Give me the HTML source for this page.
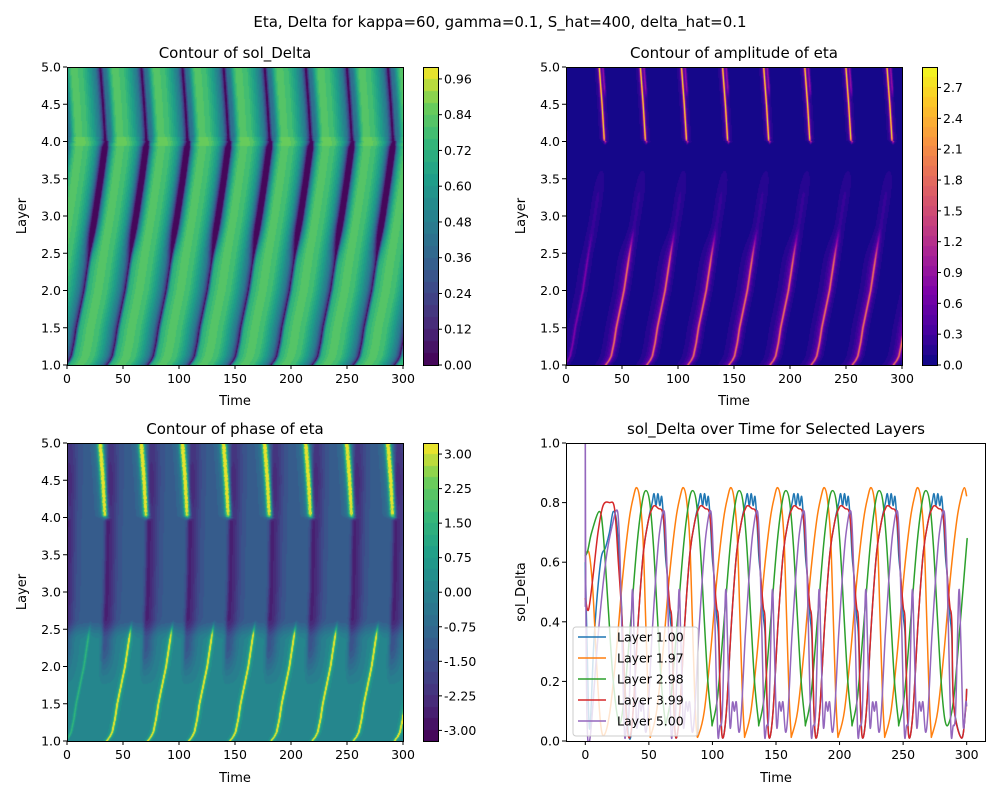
<!DOCTYPE html>
<html><head><meta charset="utf-8"><style>
body{margin:0;width:1000px;height:800px;background:#fff;position:relative;overflow:hidden;font-family:"DejaVu Sans","Liberation Sans",sans-serif}
canvas{position:absolute}
svg{position:absolute;left:0;top:0}
svg text{font-family:"DejaVu Sans","Liberation Sans",sans-serif;fill:#000}
</style></head><body>
<canvas id="c1" style="left:67px;top:67px" width="336" height="298"></canvas>
<canvas id="c2" style="left:566px;top:67px" width="336" height="298"></canvas>
<canvas id="c3" style="left:67px;top:443px" width="336" height="298"></canvas>
<canvas id="b1" style="left:423px;top:67px" width="15" height="298"></canvas>
<canvas id="b2" style="left:922px;top:67px" width="15" height="298"></canvas>
<canvas id="b3" style="left:423px;top:443px" width="15" height="298"></canvas>
<svg id="s" width="1000" height="800">
<text x="500" y="27" text-anchor="middle" font-size="15">Eta, Delta for kappa=60, gamma=0.1, S_hat=400, delta_hat=0.1</text>
<text x="235" y="58" text-anchor="middle" font-size="15">Contour of sol_Delta</text>
<text x="734" y="58" text-anchor="middle" font-size="15">Contour of amplitude of eta</text>
<text x="235" y="434" text-anchor="middle" font-size="15">Contour of phase of eta</text>
<text x="776" y="434" text-anchor="middle" font-size="15">sol_Delta over Time for Selected Layers</text>
<text x="235" y="405" text-anchor="middle" font-size="13">Time</text>
<text x="734" y="405" text-anchor="middle" font-size="13">Time</text>
<text x="235" y="782" text-anchor="middle" font-size="13">Time</text>
<text x="776" y="782" text-anchor="middle" font-size="13">Time</text>
<text transform="translate(26,216) rotate(-90)" text-anchor="middle" font-size="13">Layer</text>
<text transform="translate(525,216) rotate(-90)" text-anchor="middle" font-size="13">Layer</text>
<text transform="translate(26,592) rotate(-90)" text-anchor="middle" font-size="13">Layer</text>
<text transform="translate(525,592) rotate(-90)" text-anchor="middle" font-size="13">sol_Delta</text>
<g id="g"></g>
</svg>
<script>
// ---------- heatmap model data ----------
const period = 36.7;
const firstCycle = 35.4;
const shiftLayers = [1, 1.06, 1.12, 1.3, 1.5, 2, 2.5, 3, 3.5, 4, 4.01, 4.5, 5];
const shiftTimes  = [0, 3, 5, 7.5, 9.5, 16.4, 21.4, 27, 32, 36.5, 35.5, 33.5, 31];
const solPhase = [0, 0.03, 0.08, 0.3, 0.55, 0.75, 0.88, 0.96, 1];
const solVals  = [0.02, 0.35, 0.7, 0.83, 0.78, 0.6, 0.45, 0.25, 0.02];
const solTicks = ["0.00","0.12","0.24","0.36","0.48","0.60","0.72","0.84","0.96"];
const ampTicks = ["0.0","0.3","0.6","0.9","1.2","1.5","1.8","2.1","2.4","2.7"];
const phaseTicks = ["-3.00","-2.25","-1.50","-0.75","0.00","0.75","1.50","2.25","3.00"];
const layerTicks = ["1.0","1.5","2.0","2.5","3.0","3.5","4.0","4.5","5.0"];
const timeTicks = ["0","50","100","150","200","250","300"];

// ---------- line chart data ----------
const lineLabels = ["Layer 1.00","Layer 1.97","Layer 2.98","Layer 3.99","Layer 5.00"];
const lineColors = ["#1f77b4","#ff7f0e","#2ca02c","#d62728","#9467bd"];
const blueStartT = [0,1.5,3.5,7,12,16,19,22,25,28,31];
const blueStartV = [0.6,0.3,0.04,0.35,0.6,0.65,0.7,0.77,0.72,0.5,0.2];
const blueCycles = [34.6,71.3,108,144.7,181.4,218.1,254.8,296];
const blueShapeT = [0,3,7,11,15,18,19.5,21,22.5,24,25.5,27,28.5,30,32,33.5,35];
const blueShapeV = [0.01,0.1,0.4,0.63,0.74,0.8,0.83,0.79,0.83,0.79,0.82,0.74,0.62,0.55,0.42,0.35,0.12];
const orangeStartT = [0,3,6,9,12];
const orangeStartV = [0.62,0.63,0.5,0.25,0.06];
const orangeCycles = [40.4,77.1,114.6,151.3,188,224.8,261.5,298.2];
const orangeShapeT = [-25.5,-21,-16,-11,-6,-2.5,0,2.5,5,7,9,10.5];
const orangeShapeV = [0.02,0.1,0.3,0.55,0.74,0.82,0.85,0.81,0.68,0.42,0.15,0.03];
const greenStartT = [0,2,5,11,14,18,22];
const greenStartV = [0.62,0.64,0.7,0.77,0.7,0.45,0.2];
const greenCycles = [47.7,84.4,121.1,157.8,194.5,231.2,267.9,307];
const greenShapeT = [-21,-17,-12,-7,-3,0,3,6,9,12,15];
const greenShapeV = [0.06,0.15,0.4,0.66,0.8,0.84,0.8,0.65,0.42,0.2,0.07];
const redStartT = [0,2.5,6,10,14,19,23,26,29,32];
const redStartV = [0.48,0.44,0.55,0.7,0.79,0.8,0.78,0.6,0.4,0.1];
const redCycles = [34.6,71.3,108,144.7,181.4,218.1,254.8,296];
const redShapeT = [0,3,7,11,15,18,20,23,26,28,30,32,33.5,35];
const redShapeV = [0.01,0.1,0.4,0.63,0.74,0.78,0.79,0.78,0.77,0.7,0.55,0.45,0.4,0.12];
const purpleStartT = [0,0.4,1.5,4,10,16,21];
const purpleStartV = [1.0,0.5,0.05,0.02,0.35,0.6,0.72];
const purpleCycles = [25.4,62.1,98.8,135.5,172.2,208.9,245.6,282.3];
const purpleShapeT = [0,2,4,5.5,7,9,11.5,13,15,17,18.5,20,22,24,27,30,33];
const purpleShapeV = [0.77,0.6,0.25,0.02,0.05,0.1,0.5,0.35,0.05,0.13,0.1,0.13,0.03,0.1,0.35,0.55,0.7];
const yTicksLine = ["0.0","0.2","0.4","0.6","0.8","1.0"];
const xTicksLine = ["0","50","100","150","200","250","300"];

const VIR=["#440154","#482878","#3e4989","#31688e","#26828e","#1f9e89","#35b779","#6ece58","#fde725"];
const PLA=["#0d0887","#4c02a1","#7e03a8","#a92395","#cc4778","#e56b5d","#f89441","#fdc328","#f0f921"];
function hx(h){return [parseInt(h.substr(1,2),16),parseInt(h.substr(3,2),16),parseInt(h.substr(5,2),16)];}
const VIRr=VIR.map(hx), PLAr=PLA.map(hx);
function cmap(st,u,lv){u=Math.max(0,Math.min(0.9999,u));u=(Math.floor(u*lv)+0.5)/lv;const f=u*(st.length-1),i=Math.floor(f),r=f-i;const a=st[i],b=st[Math.min(i+1,st.length-1)];return [a[0]+(b[0]-a[0])*r,a[1]+(b[1]-a[1])*r,a[2]+(b[2]-a[2])*r];}
function interp(xs,ys,x){if(x<=xs[0])return ys[0];for(let i=1;i<xs.length;i++){if(x<=xs[i]){const r=(x-xs[i-1])/(xs[i]-xs[i-1]);return ys[i-1]+(ys[i]-ys[i-1])*r;}}return ys[ys.length-1];}
function sd(t,s){let d=((t-firstCycle-s)%period+period)%period;if(d>period/2)d-=period;return d;}
function g(x,w){return Math.exp(-(x*x)/(w*w));}
function sm(a,b,x){const r=Math.max(0,Math.min(1,(x-a)/(b-a)));return r*r*(3-2*r);}
function early(t,s){return (t-s)<firstCycle-10?0.35:1;}

function solVal(t,L){const s=interp(shiftLayers,shiftTimes,L);let ph=((t-firstCycle-s)%period+period)%period/period;let v=interp(solPhase,solVals,ph);
 const d=sd(t,s);const mid=sm(2.3,2.9,L)*(1-sm(3.9,4.1,L));v-=0.45*mid*g(d,5);
 const top=sm(3.95,4.05,L);if(top>0){v-=top*0.3*g(d-4,4);} if(Math.abs(L-4)<0.06)v+=0.05;
 return Math.max(0.01,v);}
function ampVal(t,L){const s=interp(shiftLayers,shiftTimes,L);const d=sd(t,s);let v=0.06;const e=early(t,s);
 const low=(1-sm(2.3,2.9,L))*e;v+=low*(1.5*g(d,0.9)+0.35*g(d,3.5)+0.15*g(d+3,6));
 const mid=sm(2.4,2.8,L)*(1-sm(3.2,3.8,L));v+=mid*0.15*g(d,4);
 const top=sm(3.95,4.05,L);v+=top*(2.5*g(d,0.8)+0.3*g(d,3));
 const top2=sm(4.55,4.75,L);v+=top2*0.8*g(d-3.2,0.9);
 return v;}
function phaseVal(t,L){const s=interp(shiftLayers,shiftTimes,L);const d=sd(t,s);const e=early(t,s);
 let v=0.05-1.2*sm(2.35,2.65,L);
 const dc=interp([1,2,3,4,5],[-4,-3,0,1,3],L);const d2=sd(t,dc);
 const band=sm(1.7,2.3,L)*(1-0.3*sm(4.4,5,L));
 const prof=d2<0?g(d2,2.5):g(d2,8);v-=1.4*band*prof;
 const low=(1-sm(2.35,2.65,L))*e;v+=low*(3.6*g(d,1.0)+0.7*g(d,3.5));
 const top=sm(3.95,4.05,L);if(top>0){const sp=((Math.floor(t*3)*7+Math.floor(L*40)*13)%5)/5;v+=top*(4.8*g(d,2.6)*(0.8+0.3*sp)+0.7*g(d+2,6));}
 return v;}
function drawHeat(id,fn,st,lo,hi,lv){const c=document.getElementById(id),x=c.getContext('2d');const W=c.width,H=c.height,im=x.createImageData(W,H);
 for(let py=0;py<H;py++){const L=5-(py+0.5)/H*4;for(let px=0;px<W;px++){const t=(px+0.5)/W*300;const v=fn(t,L);const col=cmap(st,(v-lo)/(hi-lo),lv);const k=(py*W+px)*4;im.data[k]=col[0];im.data[k+1]=col[1];im.data[k+2]=col[2];im.data[k+3]=255;}}
 x.putImageData(im,0,0);}
function drawBar(id,st,lv){const c=document.getElementById(id),x=c.getContext('2d');for(let py=0;py<c.height;py++){const col=cmap(st,1-(py+0.5)/c.height,lv);x.fillStyle='rgb('+col.map(Math.round).join(',')+')';x.fillRect(0,py,c.width,1);}}
drawHeat('c1',solVal,VIRr,0,1.0,25);
drawHeat('c2',ampVal,PLAr,0,2.9,30);
drawHeat('c3',phaseVal,VIRr,-3.23,3.24,26);
drawBar('b1',VIRr,25);drawBar('b2',PLAr,30);drawBar('b3',VIRr,26);

const NS="http://www.w3.org/2000/svg",G=document.getElementById('g');
function el(tag,at,txt){const e=document.createElementNS(NS,tag);for(const k in at)e.setAttribute(k,at[k]);if(txt!==undefined)e.textContent=txt;G.appendChild(e);return e;}
function frame(x,y,w,h){const r=el('rect',{x:x+0.5,y:y+0.5,width:w,height:h,fill:'none',stroke:'#000','stroke-width':1});
 
 }
function xTicks(ax,ay,aw,ah,labels,t2px){labels.forEach(lb=>{const px=t2px(parseFloat(lb));const ln=el('line',{x1:px,x2:px,y1:ay+ah,y2:ay+ah+4,stroke:'#000'});
 
 
 const tx=el('text',{x:px,y:ay+ah+18,'text-anchor':'middle','font-size':12.5},lb);
 
 });}
function yTicks(ax,labels,v2px){labels.forEach(lb=>{const py=v2px(parseFloat(lb));const ln=el('line',{x1:ax-4,x2:ax,y1:py,y2:py,stroke:'#000'});
 
 
 const tx=el('text',{x:ax-6,y:py+4.5,'text-anchor':'end','font-size':12.5},lb);
 
 });}
function cbTicks(cx,cy,h,labels,lo,hi){labels.forEach(lb=>{const py=cy+h-(parseFloat(lb)-lo)/(hi-lo)*h;const ln=el('line',{x1:cx+15,x2:cx+19,y1:py,y2:py,stroke:'#000'});
 
 
 const tx=el('text',{x:cx+21,y:py+4.5,'font-size':12.5},lb);
 
 });}
[[67,67],[566,67],[67,443]].forEach(([x,y])=>{frame(x,y,336,298);
 xTicks(x,y,336,298,timeTicks,t=>x+t/300*336);
 yTicks(x,layerTicks,v=>y+298-(v-1)/4*298);});
frame(423,67,15,298);frame(922,67,15,298);frame(423,443,15,298);
cbTicks(423,67,298,solTicks,0,1.0);cbTicks(922,67,298,ampTicks,0,2.9);cbTicks(423,443,298,phaseTicks,-3.23,3.24);

// ---------- line chart ----------
const LX=566,LY=443,LW=419,LH=298;
const xs=t=>585.3+t*1.2713, ys=v=>LY+LH-v*LH;
const cp=el('clipPath',{id:'lc'});const cr=document.createElementNS(NS,'rect');cr.setAttribute('x',LX);cr.setAttribute('y',LY);cr.setAttribute('width',LW);cr.setAttribute('height',LH);cp.appendChild(cr);
function build(st,sv,cyc,ct,cv){const pts=[];for(let i=0;i<st.length;i++)pts.push([st[i],sv[i]]);
 cyc.forEach(c=>{for(let i=0;i<ct.length;i++){const t=c+ct[i];if(t>pts[pts.length-1][0]+0.2)pts.push([t,cv[i]]);}});
 const out=[];for(let i=0;i<pts.length;i++){if(pts[i][0]<=300){out.push(pts[i]);}else{const a=pts[i-1],b=pts[i];out.push([300,a[1]+(b[1]-a[1])*(300-a[0])/(b[0]-a[0])]);break;}}
 return out;}
function path(pts){const P=pts.map(p=>[xs(p[0]),ys(p[1])]);let d='M'+P[0][0].toFixed(2)+','+P[0][1].toFixed(2);
 for(let i=0;i<P.length-1;i++){const p0=P[Math.max(0,i-1)],p1=P[i],p2=P[i+1],p3=P[Math.min(P.length-1,i+2)];
 const c1=[p1[0]+(p2[0]-p0[0])/6,p1[1]+(p2[1]-p0[1])/6],c2=[p2[0]-(p3[0]-p1[0])/6,p2[1]-(p3[1]-p1[1])/6];
 d+='C'+c1.map(v=>v.toFixed(2)).join(',')+' '+c2.map(v=>v.toFixed(2)).join(',')+' '+p2.map(v=>v.toFixed(2)).join(',');}return d;}
const series=[build(blueStartT,blueStartV,blueCycles,blueShapeT,blueShapeV),build(orangeStartT,orangeStartV,orangeCycles,orangeShapeT,orangeShapeV),
 build(greenStartT,greenStartV,greenCycles,greenShapeT,greenShapeV),build(redStartT,redStartV,redCycles,redShapeT,redShapeV),
 build(purpleStartT,purpleStartV,purpleCycles,purpleShapeT,purpleShapeV)];
const ln=el('line',{x1:xs(0),x2:xs(0),y1:ys(1),y2:ys(0.45),stroke:lineColors[4],'stroke-width':1.5,'clip-path':'url(#lc)'});


series.forEach((pts,i)=>{const p=el('path',{d:path(pts),fill:'none',stroke:lineColors[i],'stroke-width':1.5,'clip-path':'url(#lc)'});
 
 });
frame(LX,LY,LW,LH);
xTicks(LX,LY,LW,LH,xTicksLine,xs);
yTicks(LX,yTicksLine,ys);
const lg=el('rect',{x:573,y:627,width:125,height:109,rx:3,fill:'#fff','fill-opacity':0.8,stroke:'#ccc'});


lineLabels.forEach((lb,i)=>{const y=637+i*21;const l=el('line',{x1:578,x2:606,y1:y,y2:y,stroke:lineColors[i],'stroke-width':1.5});
 
 
 const t=el('text',{x:617,y:y+4.5,'font-size':12.5},lb);
 
 });
</script>
</body></html>
